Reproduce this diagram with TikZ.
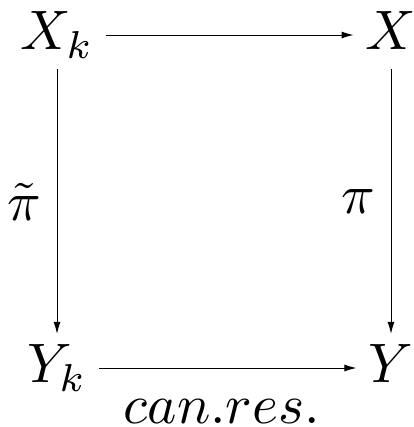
\documentclass[tikz,border=0pt]{standalone}
\usepackage{amsmath}
\usetikzlibrary{arrows.meta}

\begin{document}
\begin{tikzpicture}[x=1pt, y=1pt,
    obj/.style={scale=5.56, anchor=base, text height=6.83pt, text depth=1.44pt, inner xsep=2pt, inner ysep=1.8pt},
    map/.style={-{Latex[length=12pt, width=7pt]}, line width=1pt},
    lbl/.style={scale=5.56, inner sep=2.4pt}]

    \useasboundingbox (0,0) rectangle (413,427);

    % Top row
    \node[obj] (Xk) at (57,377) {$X_k$};
    \node[obj] (X) at (391,377) {$X$};

    % Bottom row
    \node[obj] (Yk) at (57,44) {$Y_k$};
    \node[obj] (Y) at (391,44) {$Y$};

    % Maps
    \draw[map] (Xk) -- (X);
    \draw[map] (Xk) -- node[lbl, left] {$\tilde{\pi}$} (Yk);
    \draw[map] (X) -- node[lbl, left] {$\pi$} (Y);
    \draw[map] (Yk) -- (Y);
    \node[lbl, anchor=base] (res) at (222,4) {$can.res.$};
\end{tikzpicture}
\end{document}
